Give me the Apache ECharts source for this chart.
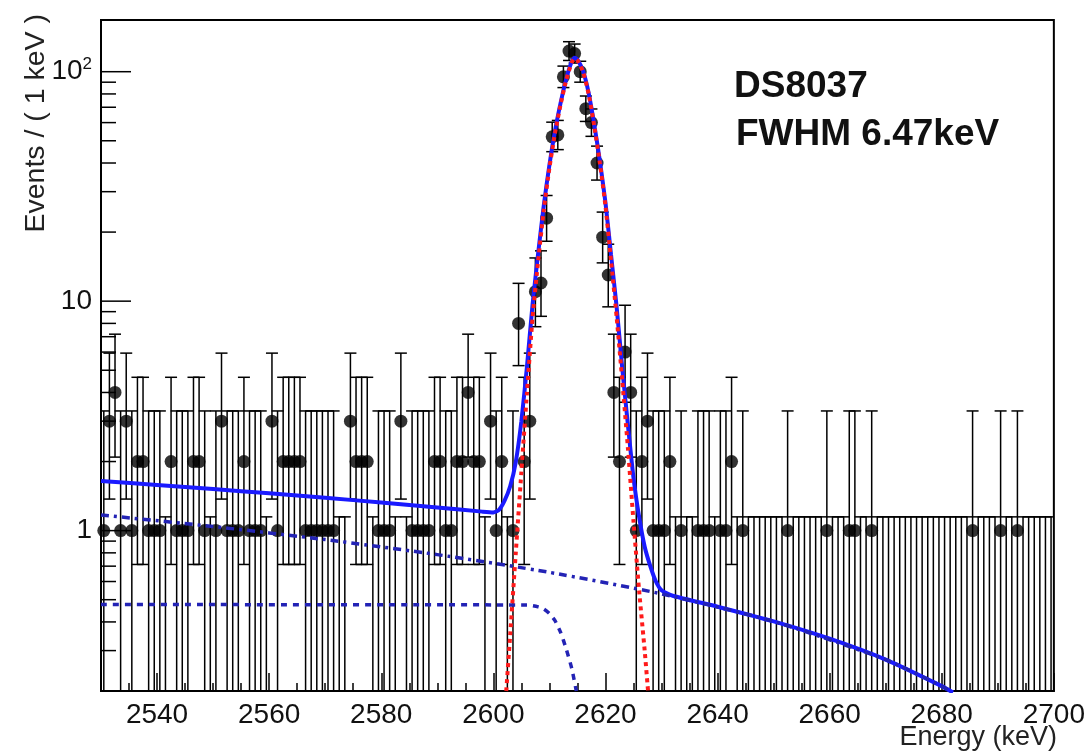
<!DOCTYPE html>
<html>
<head>
<meta charset="utf-8">
<script src="https://cdn.jsdelivr.net/npm/echarts@6/dist/echarts.min.js"></script>
<style>
html,body{margin:0;padding:0;background:#fff}
#main{width:1088px;height:753px}
</style>
</head>
<body>
<div id="main"></div>
<script>
// 1 keV bins, first bin starts at 2530
const binStart = 2530;
const counts = [
  1,3,4,1,3,1,2,2,1,1, 1,0,2,1,1,1,2,2,1,0,
  1,3,1,1,1,2,1,1,1,0, 3,1,2,2,2,2,1,1,1,1,
  1,1,0,0,3,2,2,2,0,1, 1,1,0,3,0,1,1,1,1,2,
  2,1,1,2,2,4,2,2,0,3, 1,2,0,1,8,2,3,11,12,23,
  52,53,95,123,120,100,69,60,40,19, 13,4,2,6,4,1,2,3,1,1,
  1,2,0,1,0,0,1,1,1,0, 1,1,2,0,1,0,0,0,0,0,
  0,0,1,0,0,0,0,0,0,1, 0,0,0,1,1,0,0,1,0,0,
  0,0,0,0,0,0,0,0,0,0, 0,0,0,0,0,1,0,0,0,0,
  1,0,0,1,0,0,0,0,0,0
];

// fit curves
const totalE = [2530,2540,2550,2560,2570,2580,2590,2598,2600,2601,2602,2603,2604,2605,2606,2607,2608,2609,2610,2611,2612,2613,2614,2614.5,2615,2616,2617,2618,2619,2620,2621,2622,2623,2624,2625,2626,2627,2628,2629,2630,2632,2640,2650,2660,2670,2680,2682];
const totalV = [1.646,1.582,1.518,1.454,1.39,1.326,1.262,1.21,1.2,1.23,1.35,1.56,1.99,3.0,5.2,9.7,16.2,26.2,39.2,55.2,73.1,93,111,115,112.9,100.9,80.9,58.9,40.9,26.9,15.9,9.4,5.1,2.9,1.7,1.15,0.85,0.7,0.6,0.55,0.52,0.466,0.402,0.338,0.274,0.21,0.197];

const peakE = [2602.3,2603,2604,2605,2606,2607,2608,2609,2610,2611,2612,2613,2614,2614.5,2615,2616,2617,2618,2619,2620,2621,2622,2623,2624,2625,2626,2627,2627.6];
const peakV = [0.2,0.35,0.8,1.8,4.0,8.5,15,25,38,54,72,92,110,114,112,100,80,58,40,26,15,8.5,4.5,2.3,1.1,0.55,0.3,0.2];

const stepE = [2530,2606,2608,2609,2610,2611,2612,2613,2614,2614.8];
const stepV = [0.476,0.474,0.465,0.455,0.435,0.405,0.36,0.305,0.25,0.2];

const linE = [2530,2550,2570,2590,2610,2630,2650,2670,2680,2681.5];
const linV = [1.17,1.042,0.914,0.786,0.658,0.53,0.402,0.274,0.21,0.2];

const yMajorTicks = [1, 10, 100];
const yMinorTicks = [0.3,0.4,0.5,0.6,0.7,0.8,0.9, 2,3,4,5,6,7,8,9, 20,30,40,50,60,70,80,90];

const yMin = 0.2, yMax = 168;

// Poisson (Gehrels) interval for a count
function poisErr(n) {
  if (n === 0) return [0, 1.1479];
  const hi = n + Math.sqrt(n + 0.75) + 1;
  const lo = n * Math.pow(1 - 1 / (9 * n) - 1 / (3 * Math.sqrt(n)), 3);
  return [lo, hi];
}

const errData = counts.map((n, i) => {
  const e = poisErr(n);
  return [binStart + i + 0.5, e[0], e[1]];
});
const pointData = [];
counts.forEach((n, i) => { if (n > 0) pointData.push([binStart + i + 0.5, n]); });

const zip = (a, b) => a.map((v, i) => [v, b[i]]);

const chart = echarts.init(document.getElementById('main'));

function renderErr(params, api) {
  const x = api.value(0), lo = api.value(1), hi = api.value(2);
  const top = api.coord([x, Math.min(hi, yMax)]);
  const bot = api.coord([x, Math.max(lo, yMin)]);
  const st = { stroke: '#000', lineWidth: 1.5 };
  const kids = [{ type: 'line', shape: { x1: top[0], y1: top[1], x2: bot[0], y2: bot[1] }, style: st }];
  const w = 6;
  if (hi < yMax) kids.push({ type: 'line', shape: { x1: top[0] - w, y1: top[1], x2: top[0] + w, y2: top[1] }, style: st });
  if (lo > yMin) kids.push({ type: 'line', shape: { x1: bot[0] - w, y1: bot[1], x2: bot[0] + w, y2: bot[1] }, style: st });
  return { type: 'group', children: kids };
}

function tickRenderer(len) {
  return function (params, api) {
    const p = api.coord([api.value(0), api.value(1)]);
    return { type: 'line', shape: { x1: p[0], y1: p[1], x2: p[0] + len, y2: p[1] }, style: { stroke: '#000', lineWidth: 1.5 } };
  };
}

const option = {
  animation: false,
  backgroundColor: '#fff',
  grid: { left: 101, right: 32, top: 20, bottom: 62, show: true, borderColor: '#000', borderWidth: 2, backgroundColor: 'transparent' },
  xAxis: {
    type: 'value', min: 2530, max: 2700, splitNumber: 8,
    axisLine: { show: true, lineStyle: { color: '#000', width: 2 } },
    axisTick: { show: true, inside: true, length: 18, lineStyle: { color: '#000', width: 1.5 } },
    minorTick: { show: true, splitNumber: 4, length: 8, lineStyle: { color: '#000', width: 1.5 } },
    splitLine: { show: false },
    axisLabel: { showMinLabel: false, fontSize: 28, color: '#111', margin: 10, fontFamily: 'Liberation Sans', formatter: v => String(v) }
  },
  yAxis: {
    type: 'log', logBase: 10, min: yMin, max: yMax,
    axisLine: { show: true, lineStyle: { color: '#000', width: 2 } },
    axisTick: { show: false },
    splitLine: { show: false },
    axisLabel: {
      showMinLabel: false, showMaxLabel: false, margin: 9, color: '#111', fontFamily: 'Liberation Sans',
      formatter: v => { const r = Math.round(v); return r === 100 ? '{a|10}{s|2}' : '{a|' + r + '}'; },
      rich: { a: { fontSize: 28, lineHeight: 32, fontFamily: 'Liberation Sans', color: '#111' }, s: { fontSize: 17, lineHeight: 17, verticalAlign: 'top', fontFamily: 'Liberation Sans', color: '#111' } }
    }
  },
  graphic: [
    { type: 'text', x: 36, y: 14, rotation: Math.PI / 2, style: { text: 'Events / ( 1 keV )', fontSize: 28.5, fontFamily: 'Liberation Sans', fill: '#222', align: 'right', verticalAlign: 'middle' } },
    { type: 'text', x: 1057, y: 738, style: { text: 'Energy (keV)', fontSize: 27, fontFamily: 'Liberation Sans', fill: '#222', align: 'right', verticalAlign: 'middle' } },
    { type: 'text', x: 734, y: 87, style: { text: 'DS8037', fontSize: 37, fontWeight: 'bold', fontFamily: 'Liberation Sans', fill: '#111', verticalAlign: 'middle' } },
    { type: 'text', x: 736, y: 135, style: { text: 'FWHM 6.47keV', fontSize: 37, fontWeight: 'bold', fontFamily: 'Liberation Sans', fill: '#111', verticalAlign: 'middle' } }
  ],
  series: [
    { type: 'custom', name: 'yMajor', renderItem: tickRenderer(30), data: yMajorTicks.map(v => [2530, v]), z: 5, silent: true },
    { type: 'custom', name: 'yMinor', renderItem: tickRenderer(15), data: yMinorTicks.map(v => [2530, v]), z: 5, silent: true },
    { type: 'custom', name: 'err', renderItem: renderErr, data: errData, clip: true, z: 2, silent: true, encode: { x: 0, y: [1, 2] } },
    { type: 'scatter', name: 'data', data: pointData, symbol: 'circle', symbolSize: 13, itemStyle: { color: '#000' }, z: 3, silent: true },
    { type: 'line', name: 'total', data: zip(totalE, totalV), showSymbol: false, smooth: 0.2, lineStyle: { color: '#1a1aff', width: 4 }, z: 4 },
    { type: 'line', name: 'linear', data: zip(linE, linV), showSymbol: false, smooth: 0.2, lineStyle: { color: '#2323b5', width: 3.5, type: [8, 5, 3, 5] }, z: 4 },
    { type: 'line', name: 'step', data: zip(stepE, stepV), showSymbol: false, smooth: 0.2, lineStyle: { color: '#2323b5', width: 3.5, type: [6, 6] }, z: 4 },
    { type: 'line', name: 'peak', data: zip(peakE, peakV), showSymbol: false, smooth: 0.2, lineStyle: { color: '#ff1a1a', width: 4, type: [4, 4] }, z: 5 }
  ]
};
chart.setOption(option);
</script>
</body>
</html>
